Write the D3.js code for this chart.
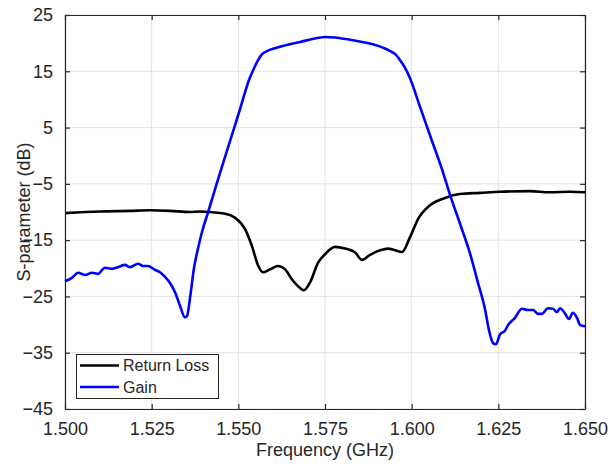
<!DOCTYPE html>
<html>
<head>
<meta charset="utf-8">
<script src="https://cdn.jsdelivr.net/npm/d3@7"></script>
<style>
  body { margin: 0; background: #fff; }
  svg text { font-family: "Liberation Sans", Arial, sans-serif; fill: #262626; }
</style>
</head>
<body>
<div id="chart"></div>
<script>
const width = 611;
const height = 464;
const margin = { top: 15, right: 26, bottom: 55, left: 65 };

// Return Loss (black)
const rlFreq = [1.5000, 1.5101, 1.5187, 1.5245, 1.5303, 1.5361, 1.5389, 1.5433, 1.5462, 1.5490,
	1.5519, 1.5539, 1.5557, 1.5571, 1.5591, 1.5614, 1.5635, 1.5655, 1.5678, 1.5689,
	1.5707, 1.5730, 1.5750, 1.5779, 1.5808, 1.5837, 1.5857, 1.5880, 1.5909, 1.5932,
	1.5952, 1.5972, 1.5995, 1.6018, 1.6053, 1.6096, 1.6139, 1.6197, 1.6255, 1.6341,
	1.6399, 1.6457, 1.6500];
const rlValue = [-10.2, -9.9, -9.8, -9.7, -9.8, -10.0, -9.9, -10.1, -10.3, -11.0,
	-13.0, -16.0, -19.5, -20.7, -20.2, -19.6, -20.2, -22.0, -23.5, -23.9,
	-22.5, -19.0, -17.5, -16.2, -16.5, -17.2, -18.5, -17.6, -16.8, -16.5,
	-16.8, -17.1, -14.5, -11.3, -8.8, -7.5, -6.8, -6.6, -6.4, -6.3,
	-6.5, -6.4, -6.5];

// Gain (blue)
const gainFreq = [1.5000, 1.5020, 1.5038, 1.5058, 1.5078, 1.5095, 1.5115, 1.5136, 1.5153, 1.5173,
	1.5188, 1.5211, 1.5225, 1.5239, 1.5260, 1.5274, 1.5288, 1.5303, 1.5317, 1.5332,
	1.5346, 1.5352, 1.5361, 1.5372, 1.5384, 1.5395, 1.5413, 1.5441, 1.5476, 1.5505,
	1.5531, 1.5545, 1.5557, 1.5568, 1.5583, 1.5606, 1.5629, 1.5678, 1.5727, 1.5750,
	1.5779, 1.5822, 1.5857, 1.5888, 1.5917, 1.5938, 1.5955, 1.5966, 1.5981, 1.5995,
	1.6024, 1.6053, 1.6088, 1.6111, 1.6139, 1.6168, 1.6191, 1.6212, 1.6223, 1.6235,
	1.6243, 1.6255, 1.6269, 1.6278, 1.6298, 1.6318, 1.6336, 1.6350, 1.6364, 1.6376,
	1.6393, 1.6408, 1.6419, 1.6428, 1.6442, 1.6454, 1.6465, 1.6477, 1.6486, 1.6500];
const gainValue = [-22.3, -21.7, -20.8, -21.2, -20.8, -21.0, -19.9, -20.1, -19.8, -19.4,
	-19.8, -19.2, -19.6, -19.6, -20.3, -20.7, -21.5, -22.6, -24.2, -26.7,
	-28.7, -28.5, -25.1, -20.0, -16.4, -13.6, -10.0, -4.3, 2.6, 8.3,
	13.5, 15.5, 17.0, 18.0, 18.6, 19.1, 19.5, 20.2, 20.9, 21.1,
	21.0, 20.6, 20.2, 19.8, 19.2, 18.6, 17.9, 17.0, 15.6, 13.8,
	8.7, 3.6, -2.5, -7.0, -12.0, -17.3, -22.5, -27.4, -31.0, -33.3,
	-33.5, -31.7, -31.1, -30.1, -28.8, -27.2, -27.4, -27.4, -28.1, -28.1,
	-27.1, -27.2, -27.8, -27.1, -28.0, -29.0, -27.9, -28.8, -30.1, -30.3];

const xTicks = [1.500, 1.525, 1.550, 1.575, 1.600, 1.625, 1.650];
const yTicks = [25, 15, 5, -5, -15, -25, -35, -45];

const seriesNames = ["Return Loss", "Gain"];
const seriesColors = ["#000000", "#0000ff"];

const innerW = width - margin.left - margin.right;
const innerH = height - margin.top - margin.bottom;

const svg = d3
	.select("#chart")
	.append("svg")
	.attr("width", width)
	.attr("height", height);

const g = svg.append("g").attr("transform", `translate(${margin.left},${margin.top})`);

const x = d3.scaleLinear().domain([1.5, 1.65]).range([0, innerW]);
const y = d3.scaleLinear().domain([-45, 25]).range([innerH, 0]);

// grid
g.append("g")
	.selectAll("line")
	.data(xTicks)
	.join("line")
	.attr("x1", (d) => x(d))
	.attr("x2", (d) => x(d))
	.attr("y1", 0)
	.attr("y2", innerH)
	.attr("stroke", "#e3e3e3")
	.attr("stroke-width", 1);

g.append("g")
	.selectAll("line")
	.data(yTicks)
	.join("line")
	.attr("x1", 0)
	.attr("x2", innerW)
	.attr("y1", (d) => y(d))
	.attr("y2", (d) => y(d))
	.attr("stroke", "#e3e3e3")
	.attr("stroke-width", 1);

// lines
const line = d3
	.line()
	.curve(d3.curveMonotoneX)
	.x((d) => x(d[0]))
	.y((d) => y(d[1]));

const rlData = d3.zip(rlFreq, rlValue);
const gainData = d3.zip(gainFreq, gainValue);

g.append("path")
	.datum(rlData)
	.attr("fill", "none")
	.attr("stroke", seriesColors[0])
	.attr("stroke-width", 2.6)
	.attr("stroke-linejoin", "round")
	.attr("d", line);

g.append("path")
	.datum(gainData)
	.attr("fill", "none")
	.attr("stroke", seriesColors[1])
	.attr("stroke-width", 2.6)
	.attr("stroke-linejoin", "round")
	.attr("d", line);

// axes (MATLAB style box with inward ticks)
const axisColor = "#262626";

g.append("g")
	.attr("transform", `translate(0,${innerH})`)
	.call(d3.axisBottom(x).tickValues(xTicks).tickSizeInner(-5).tickSizeOuter(0).tickPadding(13).tickFormat(d3.format(".3f")));

g.append("g")
	.call(d3.axisLeft(y).tickValues(yTicks).tickSizeInner(-5).tickSizeOuter(0).tickPadding(12).tickFormat(d3.format("d")));

g.append("g")
	.call(d3.axisTop(x).tickValues(xTicks).tickSizeInner(-5).tickSizeOuter(0).tickFormat(""));

g.append("g")
	.attr("transform", `translate(${innerW},0)`)
	.call(d3.axisRight(y).tickValues(yTicks).tickSizeInner(-5).tickSizeOuter(0).tickFormat(""));

g.selectAll(".domain").attr("stroke", axisColor).attr("stroke-width", 1.2);
g.selectAll(".tick line").attr("stroke", axisColor).attr("stroke-width", 1.2);
g.selectAll(".tick text")
	.style("font-family", "'Liberation Sans', Arial, sans-serif")
	.style("font-size", "18px")
	.attr("fill", axisColor);

// axis labels
svg.append("text")
	.attr("x", margin.left + innerW / 2)
	.attr("y", 456)
	.attr("text-anchor", "middle")
	.style("font-size", "18px")
	.text("Frequency (GHz)");

svg.append("text")
	.attr("transform", `translate(30,${margin.top + innerH / 2}) rotate(-90)`)
	.attr("text-anchor", "middle")
	.style("font-size", "18px")
	.text("S-parameter (dB)");

// legend
const legend = svg.append("g");
legend.append("rect")
	.attr("x", 76.5)
	.attr("y", 354.5)
	.attr("width", 142)
	.attr("height", 44)
	.attr("fill", "#fff")
	.attr("stroke", axisColor)
	.attr("stroke-width", 1);

seriesNames.forEach((name, i) => {
	const ly = 365.5 + i * 21.5;
	legend.append("line")
		.attr("x1", 80)
		.attr("x2", 119)
		.attr("y1", ly)
		.attr("y2", ly)
		.attr("stroke", seriesColors[i])
		.attr("stroke-width", 2.6);
	legend.append("text")
		.attr("x", 123)
		.attr("y", ly)
		.attr("dy", "0.35em")
		.style("font-size", "16px")
		.attr("fill", "#000")
		.text(name);
});
</script>
</body>
</html>
